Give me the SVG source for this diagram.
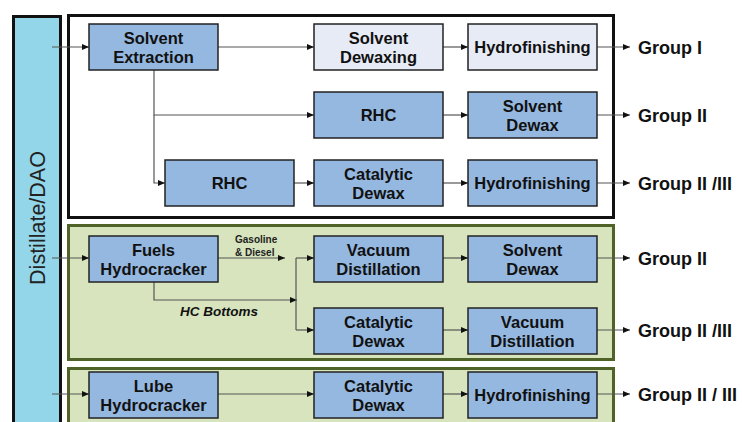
<svg xmlns="http://www.w3.org/2000/svg" width="742" height="422" viewBox="0 0 742 422">
<defs>
<marker id="ah" markerUnits="userSpaceOnUse" markerWidth="7" markerHeight="6" refX="7" refY="3" orient="auto"><path d="M0,0 L7,3 L0,6 z" fill="#111"/></marker>
<style>
.box{fill:#95b8e0;stroke:#222;stroke-width:1.5}
.lbox{fill:#e7ebf5;stroke:#222;stroke-width:1.5}
.t{font-family:"Liberation Sans",Arial,sans-serif;font-weight:bold;font-size:16.5px;fill:#111;text-anchor:middle}
.g{font-family:"Liberation Sans",Arial,sans-serif;font-weight:bold;font-size:18px;fill:#111}
.c{fill:none;stroke:#555;stroke-width:1.2}
.a{marker-end:url(#ah)}
</style>
</defs>
<rect width="742" height="422" fill="#fff"/>
<g id="feed">
<rect x="13.5" y="16.5" width="47" height="420" fill="#93d6e9" stroke="#111" stroke-width="3"/>
<text transform="translate(45,218) rotate(-90)" font-family="Liberation Sans,Arial,sans-serif" font-size="21.5" fill="#222" text-anchor="middle">Distillate/DAO</text>
</g>
<g id="section-solvent">
<rect x="68.5" y="15.5" width="545" height="202" fill="#fff" stroke="#111" stroke-width="3"/>
</g>
<g id="section-fuels">
<rect x="68.5" y="225.5" width="545" height="134" fill="#d7e4bd" stroke="#4f6228" stroke-width="3"/>
</g>
<g id="section-lube">
<rect x="68.5" y="368.5" width="545" height="70" fill="#d7e4bd" stroke="#4f6228" stroke-width="3"/>
</g>
<g id="connectors">
<path class="c a" d="M52,47 H89"/>
<path class="c a" d="M218,47 H314"/>
<path class="c a" d="M443,47 H468"/>
<path class="c a" d="M597,47 H630"/>
<path class="c a" d="M154,70 V115 H314"/>
<path class="c a" d="M154,115 V183 H165" stroke="#888"/>
<path class="c a" d="M443,115 H468"/>
<path class="c a" d="M597,115 H630"/>
<path class="c a" d="M294,183 H314"/>
<path class="c a" d="M443,183 H468"/>
<path class="c a" d="M597,183 H630"/>
<path class="c a" d="M52,258 H89"/>
<path class="c a" d="M218,258 H285"/>
<path class="c a" d="M154,282 V300 H297"/>
<path class="c" d="M296,258 V330"/>
<path class="c a" d="M296,258 H314"/>
<path class="c a" d="M296,330 H314"/>
<path class="c a" d="M443,258 H468"/>
<path class="c a" d="M597,258 H630"/>
<path class="c a" d="M443,330 H468"/>
<path class="c a" d="M597,330 H630"/>
<path class="c a" d="M52,394 H89"/>
<path class="c a" d="M218,394 H314"/>
<path class="c a" d="M443,394 H468"/>
<path class="c a" d="M597,394 H630"/>
<text x="235" y="243" font-family="Liberation Sans,Arial,sans-serif" font-weight="bold" font-size="10" fill="#222">Gasoline</text>
<text x="235" y="256" font-family="Liberation Sans,Arial,sans-serif" font-weight="bold" font-size="10" fill="#222">&amp; Diesel</text>
<text x="180" y="316" font-family="Liberation Sans,Arial,sans-serif" font-weight="bold" font-style="italic" font-size="13.5" fill="#111">HC Bottoms</text>
</g>
<g id="solvent-extraction"><rect class="box" x="89" y="24" width="129" height="46"/><text class="t" x="153.5" y="44">Solvent</text><text class="t" x="153.5" y="63">Extraction</text></g>
<g id="solvent-dewaxing"><rect class="lbox" x="314" y="24" width="129" height="46"/><text class="t" x="378.5" y="44">Solvent</text><text class="t" x="378.5" y="63">Dewaxing</text></g>
<g id="hydrofinishing-1"><rect class="lbox" x="468" y="24" width="129" height="46"/><text class="t" x="532.5" y="53">Hydrofinishing</text></g>
<g id="rhc-1"><rect class="box" x="314" y="92" width="129" height="46"/><text class="t" x="378.5" y="121">RHC</text></g>
<g id="solvent-dewax-1"><rect class="box" x="468" y="92" width="129" height="46"/><text class="t" x="532.5" y="112">Solvent</text><text class="t" x="532.5" y="131">Dewax</text></g>
<g id="rhc-2"><rect class="box" x="165" y="160" width="129" height="46"/><text class="t" x="229.5" y="189">RHC</text></g>
<g id="catalytic-dewax-1"><rect class="box" x="314" y="160" width="129" height="46"/><text class="t" x="378.5" y="180">Catalytic</text><text class="t" x="378.5" y="199">Dewax</text></g>
<g id="hydrofinishing-2"><rect class="box" x="468" y="160" width="129" height="46"/><text class="t" x="532.5" y="189">Hydrofinishing</text></g>
<g id="fuels-hydrocracker"><rect class="box" x="89" y="236" width="129" height="46"/><text class="t" x="153.5" y="256">Fuels</text><text class="t" x="153.5" y="275">Hydrocracker</text></g>
<g id="vacuum-distillation-1"><rect class="box" x="314" y="236" width="129" height="46"/><text class="t" x="378.5" y="256">Vacuum</text><text class="t" x="378.5" y="275">Distillation</text></g>
<g id="solvent-dewax-2"><rect class="box" x="468" y="236" width="129" height="46"/><text class="t" x="532.5" y="256">Solvent</text><text class="t" x="532.5" y="275">Dewax</text></g>
<g id="catalytic-dewax-2"><rect class="box" x="314" y="308" width="129" height="46"/><text class="t" x="378.5" y="328">Catalytic</text><text class="t" x="378.5" y="347">Dewax</text></g>
<g id="vacuum-distillation-2"><rect class="box" x="468" y="308" width="129" height="46"/><text class="t" x="532.5" y="328">Vacuum</text><text class="t" x="532.5" y="347">Distillation</text></g>
<g id="lube-hydrocracker"><rect class="box" x="89" y="372" width="129" height="46"/><text class="t" x="153.5" y="392">Lube</text><text class="t" x="153.5" y="411">Hydrocracker</text></g>
<g id="catalytic-dewax-3"><rect class="box" x="314" y="372" width="129" height="46"/><text class="t" x="378.5" y="392">Catalytic</text><text class="t" x="378.5" y="411">Dewax</text></g>
<g id="hydrofinishing-3"><rect class="box" x="468" y="372" width="129" height="46"/><text class="t" x="532.5" y="401">Hydrofinishing</text></g>
<g id="outputs">
<text class="g" x="638" y="54">Group I</text>
<text class="g" x="638" y="122">Group II</text>
<text class="g" x="638" y="190">Group II /III</text>
<text class="g" x="638" y="265">Group II</text>
<text class="g" x="638" y="337">Group II /III</text>
<text class="g" x="638" y="401">Group II / III</text>
</g>
</svg>
